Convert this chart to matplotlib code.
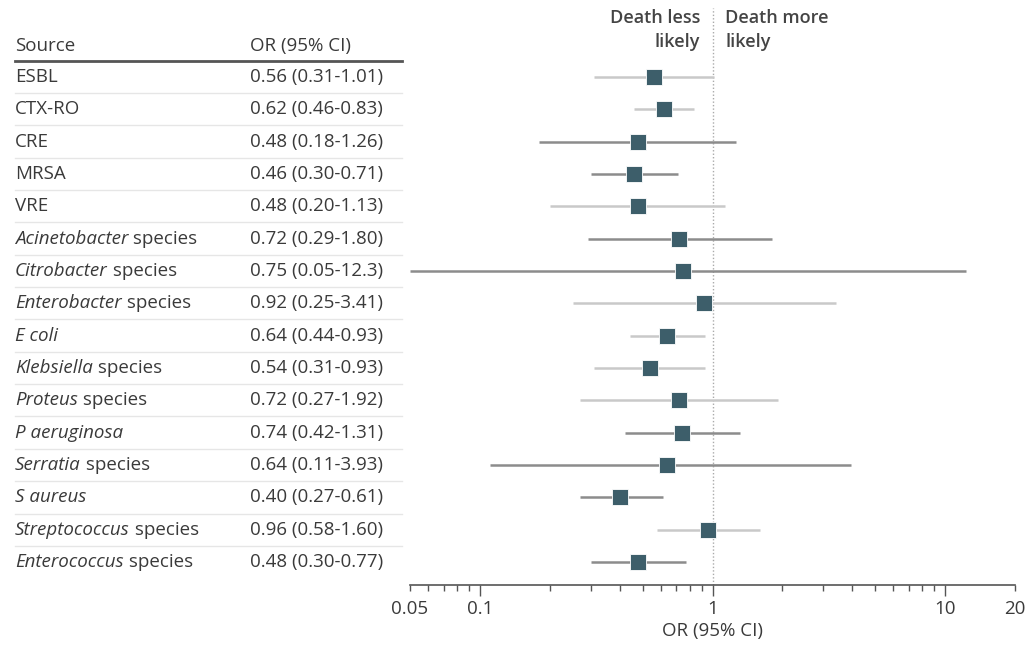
import numpy as np
import matplotlib.pyplot as plt
from matplotlib import transforms
from matplotlib.ticker import NullFormatter

# data
sources = ["ESBL", "CTX-RO", "CRE", "MRSA", "VRE",
           "Acinetobacter species", "Citrobacter species", "Enterobacter species",
           "E coli", "Klebsiella species", "Proteus species", "P aeruginosa",
           "Serratia species", "S aureus", "Streptococcus species", "Enterococcus species"]
italic_part = ["", "", "", "", "",
               "Acinetobacter", "Citrobacter", "Enterobacter",
               "E coli", "Klebsiella", "Proteus", "P aeruginosa",
               "Serratia", "S aureus", "Streptococcus", "Enterococcus"]
odds = [0.56, 0.62, 0.48, 0.46, 0.48, 0.72, 0.75, 0.92,
        0.64, 0.54, 0.72, 0.74, 0.64, 0.40, 0.96, 0.48]
lower = [0.31, 0.46, 0.18, 0.30, 0.20, 0.29, 0.05, 0.25,
         0.44, 0.31, 0.27, 0.42, 0.11, 0.27, 0.58, 0.30]
upper = [1.01, 0.83, 1.26, 0.71, 1.13, 1.80, 12.3, 3.41,
         0.93, 0.93, 1.92, 1.31, 3.93, 0.61, 1.60, 0.77]
ci_labels = ["0.56 (0.31-1.01)", "0.62 (0.46-0.83)", "0.48 (0.18-1.26)",
             "0.46 (0.30-0.71)", "0.48 (0.20-1.13)", "0.72 (0.29-1.80)",
             "0.75 (0.05-12.3)", "0.92 (0.25-3.41)", "0.64 (0.44-0.93)",
             "0.54 (0.31-0.93)", "0.72 (0.27-1.92)", "0.74 (0.42-1.31)",
             "0.64 (0.11-3.93)", "0.40 (0.27-0.61)", "0.96 (0.58-1.60)",
             "0.48 (0.30-0.77)"]
tick_vals = [0.05, 0.1, 1, 10, 20]
tick_labels = ["0.05", "0.1", "1", "10", "20"]

# whisker shade per row (light / dark), as in the original
shade = ["l", "l", "d", "d", "l", "d", "d", "l", "l", "l", "l", "d", "d", "d", "l", "d"]

plt.rcParams['font.family'] = ['Open Sans', 'DejaVu Sans']
fs = 13.5
txt = "#3a3a3a"
box = "#3d5e6a"
light = "#c9c9c9"
dark = "#8c8c8c"

fig = plt.figure(figsize=(10.25, 6.48), dpi=100)
ax = fig.add_axes([410 / 1025, 1 - 585 / 648, 605 / 1025, 577 / 648])

y = np.arange(len(sources))
for i in y:
    c = light if shade[i] == "l" else dark
    ax.plot([lower[i], upper[i]], [i, i], color=c, lw=1.8, solid_capstyle="butt", zorder=2)
ax.plot(odds, y, "s", color=box, ms=12, mec="white", mew=0.6, zorder=3)

ax.axvline(1, color="#aaaaaa", lw=1, ls=(0, (1, 1.5)), zorder=1)

ax.set_xscale("log")
ax.set_xlim(0.05, 20)
ax.set_ylim(15.71, -2.13)
ax.set_xticks(tick_vals)
ax.set_xticklabels(tick_labels, fontsize=fs, color=txt)
ax.set_xticks([v * m for v in (0.01, 0.1, 1) for m in range(2, 10) if 0.05 < v * m < 20],
              minor=True)
ax.xaxis.set_minor_formatter(NullFormatter())
ax.tick_params(axis="x", which="major", length=8, width=1, color="#555555", pad=3)
ax.tick_params(axis="x", which="minor", length=4, width=1, color="#555555")
for t, v in zip(ax.xaxis.get_major_ticks(), tick_vals):
    if v in (0.05, 20):
        t.tick1line.set_markersize(4)
ax.set_xlabel("OR (95% CI)", fontsize=fs, color=txt, labelpad=3)
ax.set_yticks([])
for s in ["top", "right", "left"]:
    ax.spines[s].set_visible(False)
ax.spines["bottom"].set_color("#555555")
ax.spines["bottom"].set_linewidth(1.2)

ax.text(0.884, -1.45, "Death less\nlikely", ha="right", va="center", fontsize=13,
        fontweight="semibold", color="#444444", linespacing=1.45)
ax.text(1.132, -1.45, "Death more\nlikely", ha="left", va="center", fontsize=13,
        fontweight="semibold", color="#444444", linespacing=1.45)

# table on the left
tr = transforms.blended_transform_factory(fig.transFigure, ax.transData)
x0, x1, x2 = 15 / 1025, 250 / 1025, 402 / 1025
fig.text(x0, -0.95, "Source", transform=tr, fontsize=fs, color=txt, va="center",
         fontweight="medium")
fig.text(x1, -0.95, "OR (95% CI)", transform=tr, fontsize=fs, color=txt, va="center",
         fontweight="medium")
ax.plot([x0, x2], [-0.48, -0.48], transform=tr, color="#555555", lw=2, clip_on=False)
renderer = fig.canvas.get_renderer()
for i in y:
    it = italic_part[i]
    if it:
        t = fig.text(x0, i, it, transform=tr, fontsize=fs, color=txt, va="center",
                     style="italic")
        w = t.get_window_extent(renderer).width
        fig.text(x0, i, sources[i][len(it):], transform=transforms.offset_copy(
            tr, fig=fig, x=w, units="dots"), fontsize=fs, color=txt, va="center")
    else:
        fig.text(x0, i, sources[i], transform=tr, fontsize=fs, color=txt, va="center")
    fig.text(x1, i, ci_labels[i], transform=tr, fontsize=fs, color=txt, va="center")
    if i < len(sources) - 1:
        ax.plot([x0, x2], [i + 0.5, i + 0.5], transform=tr, color="#e6e6e6", lw=1,
                clip_on=False)

fig.savefig("out.png", dpi=100, facecolor="white")
